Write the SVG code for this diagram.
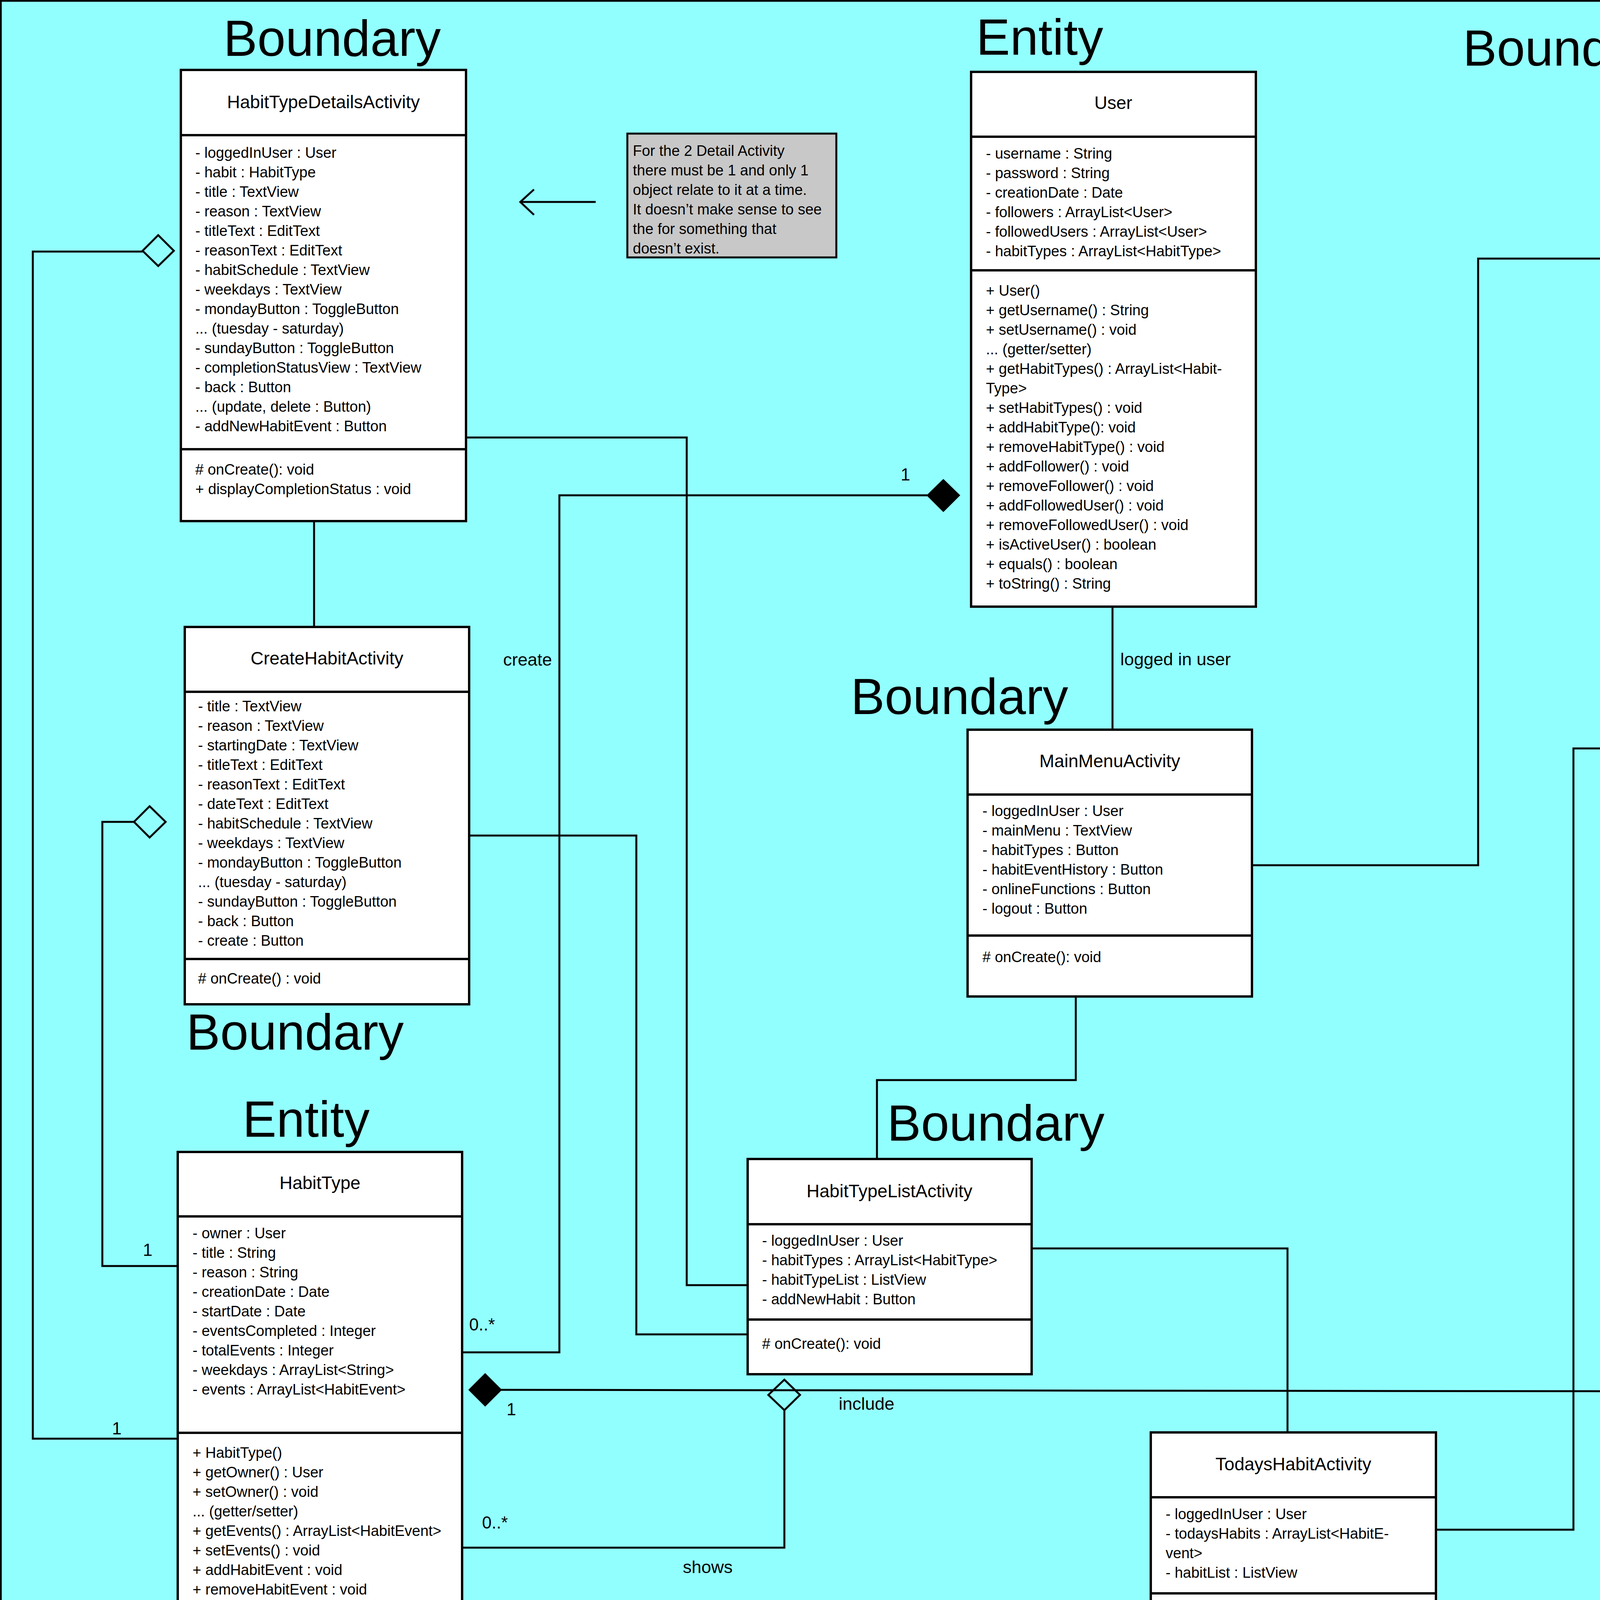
<svg xmlns="http://www.w3.org/2000/svg" width="5833" height="4500" viewBox="0 0 5833 4500">
<style>
text{font-family:"Liberation Sans",Arial,sans-serif;fill:#000}
.t{font-size:38px}
.ti{font-size:46px;text-anchor:middle}
.big{font-size:130px}
.lbl{font-size:45px}
.m{font-size:44px}
.mc{font-size:44px;text-anchor:middle}
.box{fill:#fff;stroke:#000;stroke-width:6}
.dv{stroke:#000;stroke-width:6}
.note{fill:#c8c8c8;stroke:#000;stroke-width:5}
.c{fill:none;stroke:#000;stroke-width:5}
.od{fill:none;stroke:#000;stroke-width:5}
.fd{fill:#000;stroke:#000;stroke-width:3}
</style>
<rect x="2" y="2" width="5829" height="4496" fill="#92ffff" stroke="#000" stroke-width="5"/>

<g id="labels">
<text class="big" x="572" y="143">Boundary</text>
<text class="big" x="2499" y="140">Entity</text>
<text class="big" x="3745" y="168">Boundary</text>
<text class="big" x="4088" y="1258">Boundary</text>
<text class="big" x="2178" y="1828">Boundary</text>
<text class="big" x="477" y="2687">Boundary</text>
<text class="big" x="621" y="2910">Entity</text>
<text class="big" x="2271" y="2920">Boundary</text>
<text class="big" x="4585" y="2818">Entity</text>
<text class="big" x="2686" y="4340">Boundary</text>
</g>

<g id="connectors">
<polyline class="c" points="365,644 84,644 84,3683 453,3683"/>
<polygon class="od" points="365,642 405,602 445,642 405,681"/>
<polyline class="c" points="804,1334 804,1605"/>
<polyline class="c" points="1193,1120 1758,1120 1758,3290 1912,3290"/>
<polyline class="c" points="2374,1268 1432,1268 1432,3462 1183,3462"/>
<polygon class="fd" points="2374,1268 2415,1228 2456,1268 2415,1309"/>
<polyline class="c" points="343,2104 262,2104 262,3241 453,3241"/>
<polygon class="od" points="343,2104 383,2064 424,2104 383,2144"/>
<polyline class="c" points="1202,2139 1629,2139 1629,3416 1912,3416"/>
<polyline class="c" points="2848,1553 2848,1868"/>
<polyline class="c" points="3205,2215 3784,2215 3784,662 4330,662"/>
<polyline class="c" points="2754,2551 2754,2765 2245,2765 2245,2967"/>
<polyline class="c" points="4674,1028 4674,1301"/>
<polyline class="c" points="5227,637 5683,637 5683,3716 5141,3716"/>
<polygon class="od" points="5147,637 5187,597 5227,637 5187,677"/>
<polyline class="c" points="5185,2280 5295,2280 5295,3128 5141,3128"/>
<polygon class="od" points="5106,2280 5145,2241 5185,2280 5145,2319"/>
<polyline class="c" points="1283,3558 4408,3562"/>
<polygon class="fd" points="1201,3558 1242,3517 1283,3558 1242,3599"/>
<polyline class="c" points="2008,3610 2008,3962 1183,3962"/>
<polygon class="od" points="1967,3571 2008,3532 2048,3571 2008,3610"/>
<polyline class="c" points="2641,3196 3296,3196 3296,3667"/>
<polyline class="c" points="3676,3916 4028,3916 4028,1916 4327,1916"/>
<polyline class="c" points="3320,4299 3320,4362 4475,4362 4475,4250"/>
<polygon class="od" points="3281,4260 3320,4221 3360,4260 3320,4299"/>
<polyline class="c" points="1525,517 1332,517"/>
<polyline class="c" points="1367,485 1332,517 1367,550"/>
<polyline class="c" points="5167,1732 5066,1732"/>
<polyline class="c" points="5098,1700 5066,1732 5098,1766"/>
<text class="mc" x="2318" y="1230">1</text>
<text class="lbl" x="2868" y="1703">logged in user</text>
<text class="lbl" x="1288" y="1704">create</text>
<text class="mc" x="378" y="3215">1</text>
<text class="mc" x="299" y="3672">1</text>
<text class="m" x="1201" y="3406">0..*</text>
<text class="mc" x="1309" y="3623">1</text>
<text class="lbl" x="2147" y="3609">include</text>
<text class="m" x="1234" y="3913">0..*</text>
<text class="lbl" x="1748" y="4027">shows</text>
<text class="m" x="4164" y="3497">0..*</text>
<text class="m" x="4317" y="4317">0..*</text>
<text class="mc" x="5187" y="3084">1</text>
<text class="m" x="5167" y="3661">0..*</text>
</g>

<g id="note1">
<rect class="note" x="1606" y="342" width="535" height="317"/>
<text class="t" x="1620" y="399">For the 2 Detail Activity</text>
<text class="t" x="1620" y="449">there must be 1 and only 1</text>
<text class="t" x="1620" y="499">object relate to it at a time.</text>
<text class="t" x="1620" y="549">It doesn’t make sense to see</text>
<text class="t" x="1620" y="599">the for something that</text>
<text class="t" x="1620" y="649">doesn’t exist.</text>
</g>

<g id="note2">
<rect class="note" x="5167" y="1655" width="333" height="132"/>
<text class="t" x="5181" y="1708">The other detail</text>
<text class="t" x="5181" y="1759">activity</text>
</g>

<g id="HabitTypeDetailsActivity">
<rect class="box" x="463" y="179" width="730" height="1155"/>
<line class="dv" x1="463" y1="346" x2="1193" y2="346"/>
<line class="dv" x1="463" y1="1150" x2="1193" y2="1150"/>
<text class="ti" x="828" y="277">HabitTypeDetailsActivity</text>
<text class="t" x="500" y="404">- loggedInUser : User</text>
<text class="t" x="500" y="454">- habit : HabitType</text>
<text class="t" x="500" y="504">- title : TextView</text>
<text class="t" x="500" y="554">- reason : TextView</text>
<text class="t" x="500" y="604">- titleText : EditText</text>
<text class="t" x="500" y="654">- reasonText : EditText</text>
<text class="t" x="500" y="704">- habitSchedule : TextView</text>
<text class="t" x="500" y="754">- weekdays : TextView</text>
<text class="t" x="500" y="804">- mondayButton : ToggleButton</text>
<text class="t" x="500" y="854">... (tuesday - saturday)</text>
<text class="t" x="500" y="904">- sundayButton : ToggleButton</text>
<text class="t" x="500" y="954">- completionStatusView : TextView</text>
<text class="t" x="500" y="1004">- back : Button</text>
<text class="t" x="500" y="1054">... (update, delete : Button)</text>
<text class="t" x="500" y="1104">- addNewHabitEvent : Button</text>
<text class="t" x="500" y="1215"># onCreate(): void</text>
<text class="t" x="500" y="1265">+ displayCompletionStatus : void</text>
</g>

<g id="User">
<rect class="box" x="2486" y="184" width="729" height="1369"/>
<line class="dv" x1="2486" y1="350" x2="3215" y2="350"/>
<line class="dv" x1="2486" y1="692" x2="3215" y2="692"/>
<text class="ti" x="2850" y="279">User</text>
<text class="t" x="2524" y="406">- username : String</text>
<text class="t" x="2524" y="456">- password : String</text>
<text class="t" x="2524" y="506">- creationDate : Date</text>
<text class="t" x="2524" y="556">- followers : ArrayList&lt;User&gt;</text>
<text class="t" x="2524" y="606">- followedUsers : ArrayList&lt;User&gt;</text>
<text class="t" x="2524" y="656">- habitTypes : ArrayList&lt;HabitType&gt;</text>
<text class="t" x="2524" y="757">+ User()</text>
<text class="t" x="2524" y="807">+ getUsername() : String</text>
<text class="t" x="2524" y="857">+ setUsername() : void</text>
<text class="t" x="2524" y="907">... (getter/setter)</text>
<text class="t" x="2524" y="957">+ getHabitTypes() : ArrayList&lt;Habit-</text>
<text class="t" x="2524" y="1007">Type&gt;</text>
<text class="t" x="2524" y="1057">+ setHabitTypes() : void</text>
<text class="t" x="2524" y="1107">+ addHabitType(): void</text>
<text class="t" x="2524" y="1157">+ removeHabitType() : void</text>
<text class="t" x="2524" y="1207">+ addFollower() : void</text>
<text class="t" x="2524" y="1257">+ removeFollower() : void</text>
<text class="t" x="2524" y="1307">+ addFollowedUser() : void</text>
<text class="t" x="2524" y="1357">+ removeFollowedUser() : void</text>
<text class="t" x="2524" y="1407">+ isActiveUser() : boolean</text>
<text class="t" x="2524" y="1457">+ equals() : boolean</text>
<text class="t" x="2524" y="1507">+ toString() : String</text>
</g>

<g id="HabitEventHistoryActivity">
<rect class="box" x="4330" y="34" width="730" height="994"/>
<line class="dv" x1="4330" y1="200" x2="5060" y2="200"/>
<line class="dv" x1="4330" y1="754" x2="5060" y2="754"/>
<text class="ti" x="4695" y="130">HabitEventHistoryActivity</text>
<text class="t" x="4368" y="256">- loggedInUser : User</text>
<text class="t" x="4368" y="306">- habitEvents : ArrayList&lt;HabitEvent&gt;</text>
<text class="t" x="4368" y="356">- habitEventHistoryView : TextView</text>
<text class="t" x="4368" y="406">- habitEventHistoryList : ListView</text>
<text class="t" x="4368" y="456">- habitTypeFilterView : TextView</text>
<text class="t" x="4368" y="506">- commentFilterView : TextView</text>
<text class="t" x="4368" y="556">- HabitTypeFilterText : EditText</text>
<text class="t" x="4368" y="606">- commentFilterText : EditText</text>
<text class="t" x="4368" y="656">- filter : Button</text>
<text class="t" x="4368" y="706">- viewMap : Button</text>
<text class="t" x="4368" y="818"># onCreate(): void</text>
<text class="t" x="4368" y="868">+ filterHabitEvents(habit) : void</text>
<text class="t" x="4368" y="918">+ filterHabitEvents(comment) : void</text>
<text class="t" x="4368" y="968">+ filterHabitEvents(both) : void</text>
</g>

<g id="HabitEventDetailsActivity">
<rect class="box" x="4327" y="1301" width="729" height="1177"/>
<line class="dv" x1="4327" y1="1466" x2="5056" y2="1466"/>
<line class="dv" x1="4327" y1="2375" x2="5056" y2="2375"/>
<text class="ti" x="4692" y="1397">HabitEventDetailsActivity</text>
<text class="t" x="4365" y="1523">- loggedInUser : User</text>
<text class="t" x="4365" y="1573">- habit : HabitType</text>
<text class="t" x="4365" y="1623">- habitEvent : HabitEvent</text>
<text class="t" x="4365" y="1673">- habitEventInfo : TextView</text>
<text class="t" x="4365" y="1723">- commentView :  TextView</text>
<text class="t" x="4365" y="1773">- commentText : EditText</text>
<text class="t" x="4365" y="1823">- insertImage : TextView</text>
<text class="t" x="4365" y="1873">- imageView : ImageView</text>
<text class="t" x="4365" y="1923">- uploadPic : Button</text>
<text class="t" x="4365" y="1973">- removePic : Button</text>
<text class="t" x="4365" y="2023">- uploadLocation : Button</text>
<text class="t" x="4365" y="2073">- removeLocation : Button</text>
<text class="t" x="4365" y="2123">- eventLocationView : TextView</text>
<text class="t" x="4365" y="2173">- locationUploaded : boolean</text>
<text class="t" x="4365" y="2223">- imageUploaded : boolean</text>
<text class="t" x="4365" y="2273">- cancel : Button</text>
<text class="t" x="4365" y="2323">- update : Button</text>
<text class="t" x="4365" y="2433"># onCreate() : void</text>
</g>

<g id="CreateHabitActivity">
<rect class="box" x="473" y="1605" width="728" height="966"/>
<line class="dv" x1="473" y1="1771" x2="1201" y2="1771"/>
<line class="dv" x1="473" y1="2455" x2="1201" y2="2455"/>
<text class="ti" x="837" y="1701">CreateHabitActivity</text>
<text class="t" x="507" y="1821">- title : TextView</text>
<text class="t" x="507" y="1871">- reason : TextView</text>
<text class="t" x="507" y="1921">- startingDate : TextView</text>
<text class="t" x="507" y="1971">- titleText : EditText</text>
<text class="t" x="507" y="2021">- reasonText : EditText</text>
<text class="t" x="507" y="2071">- dateText : EditText</text>
<text class="t" x="507" y="2121">- habitSchedule : TextView</text>
<text class="t" x="507" y="2171">- weekdays : TextView</text>
<text class="t" x="507" y="2221">- mondayButton : ToggleButton</text>
<text class="t" x="507" y="2271">... (tuesday - saturday)</text>
<text class="t" x="507" y="2321">- sundayButton : ToggleButton</text>
<text class="t" x="507" y="2371">- back : Button</text>
<text class="t" x="507" y="2421">- create : Button</text>
<text class="t" x="507" y="2518"># onCreate() : void</text>
</g>

<g id="MainMenuActivity">
<rect class="box" x="2477" y="1868" width="728" height="683"/>
<line class="dv" x1="2477" y1="2034" x2="3205" y2="2034"/>
<line class="dv" x1="2477" y1="2395" x2="3205" y2="2395"/>
<text class="ti" x="2841" y="1964">MainMenuActivity</text>
<text class="t" x="2515" y="2089">- loggedInUser : User</text>
<text class="t" x="2515" y="2139">- mainMenu : TextView</text>
<text class="t" x="2515" y="2189">- habitTypes : Button</text>
<text class="t" x="2515" y="2239">- habitEventHistory : Button</text>
<text class="t" x="2515" y="2289">- onlineFunctions : Button</text>
<text class="t" x="2515" y="2339">- logout : Button</text>
<text class="t" x="2515" y="2463"># onCreate(): void</text>
</g>

<g id="HabitType">
<rect class="box" x="455" y="2949" width="728" height="1331"/>
<line class="dv" x1="455" y1="3114" x2="1183" y2="3114"/>
<line class="dv" x1="455" y1="3668" x2="1183" y2="3668"/>
<text class="ti" x="819" y="3044">HabitType</text>
<text class="t" x="493" y="3170">- owner : User</text>
<text class="t" x="493" y="3220">- title : String</text>
<text class="t" x="493" y="3270">- reason : String</text>
<text class="t" x="493" y="3320">- creationDate : Date</text>
<text class="t" x="493" y="3370">- startDate : Date</text>
<text class="t" x="493" y="3420">- eventsCompleted : Integer</text>
<text class="t" x="493" y="3470">- totalEvents : Integer</text>
<text class="t" x="493" y="3520">- weekdays : ArrayList&lt;String&gt;</text>
<text class="t" x="493" y="3570">- events : ArrayList&lt;HabitEvent&gt;</text>
<text class="t" x="493" y="3732">+ HabitType()</text>
<text class="t" x="493" y="3782">+ getOwner() : User</text>
<text class="t" x="493" y="3832">+ setOwner() : void</text>
<text class="t" x="493" y="3882">... (getter/setter)</text>
<text class="t" x="493" y="3932">+ getEvents() : ArrayList&lt;HabitEvent&gt;</text>
<text class="t" x="493" y="3982">+ setEvents() : void</text>
<text class="t" x="493" y="4032">+ addHabitEvent : void</text>
<text class="t" x="493" y="4082">+ removeHabitEvent : void</text>
<text class="t" x="493" y="4132">+ calculateCompletion() : double</text>
<text class="t" x="493" y="4182">+ equals() : boolean</text>
<text class="t" x="493" y="4232">+ toString() : String</text>
</g>

<g id="HabitTypeListActivity">
<rect class="box" x="1914" y="2967" width="727" height="551"/>
<line class="dv" x1="1914" y1="3134" x2="2641" y2="3134"/>
<line class="dv" x1="1914" y1="3378" x2="2641" y2="3378"/>
<text class="ti" x="2277" y="3065">HabitTypeListActivity</text>
<text class="t" x="1951" y="3189">- loggedInUser : User</text>
<text class="t" x="1951" y="3239">- habitTypes : ArrayList&lt;HabitType&gt;</text>
<text class="t" x="1951" y="3289">- habitTypeList : ListView</text>
<text class="t" x="1951" y="3339">- addNewHabit : Button</text>
<text class="t" x="1951" y="3453"># onCreate(): void</text>
</g>

<g id="TodaysHabitActivity">
<rect class="box" x="2946" y="3667" width="730" height="551"/>
<line class="dv" x1="2946" y1="3833" x2="3676" y2="3833"/>
<line class="dv" x1="2946" y1="4079" x2="3676" y2="4079"/>
<text class="ti" x="3311" y="3764">TodaysHabitActivity</text>
<text class="t" x="2984" y="3889">- loggedInUser : User</text>
<text class="t" x="2984" y="3939">- todaysHabits : ArrayList&lt;HabitE-</text>
<text class="t" x="2984" y="3989">vent&gt;</text>
<text class="t" x="2984" y="4039">- habitList : ListView</text>
<text class="t" x="2984" y="4153"># onCreate(): void</text>
</g>

<g id="HabitEvent">
<rect class="box" x="4409" y="2859" width="729" height="1391"/>
<line class="dv" x1="4409" y1="3025" x2="5138" y2="3025"/>
<line class="dv" x1="4409" y1="3641" x2="5138" y2="3641"/>
<text class="ti" x="4773" y="2954">HabitEvent</text>
<text class="t" x="4447" y="3080">- habitType : HabitType</text>
<text class="t" x="4447" y="3130">- comment : String</text>
<text class="t" x="4447" y="3180">- bm : Bitmap</text>
<text class="t" x="4447" y="3230">- imageByteArray : byte[]</text>
<text class="t" x="4447" y="3280">- imagePath : String</text>
<text class="t" x="4447" y="3330">- locationString : String</text>
<text class="t" x="4447" y="3380">- image : Image</text>
<text class="t" x="4447" y="3430">- date : Date</text>
<text class="t" x="4447" y="3480">- likes : int</text>
<text class="t" x="4447" y="3530">- dislikes : int</text>
<text class="t" x="4447" y="3580">- location : Location</text>
<text class="t" x="4447" y="3702">+ HabitEvent()</text>
<text class="t" x="4447" y="3752">+ HabitEvent()</text>
<text class="t" x="4447" y="3802">+ getHabitType() : HabitType</text>
<text class="t" x="4447" y="3852">+ setHabitType() : void</text>
<text class="t" x="4447" y="3902">+ getComment() : String</text>
<text class="t" x="4447" y="3952">+ setComment() : void</text>
<text class="t" x="4447" y="4002" xml:space="preserve">...     (getter/setter)</text>
<text class="t" x="4447" y="4052" xml:space="preserve">+ getLocation() :  Location</text>
<text class="t" x="4447" y="4102">+ setLocation() : void</text>
<text class="t" x="4447" y="4152">+ equals() : boolean</text>
<text class="t" x="4447" y="4202">+ toString() : String</text>
</g>
</svg>
